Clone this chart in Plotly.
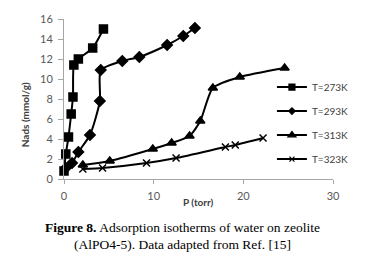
import plotly.graph_objects as go

p_273 = [0.0, 0.2, 0.5, 0.8, 1.0, 1.1, 1.6, 3.2, 4.4]
n_273 = [0.8, 2.5, 4.2, 6.5, 8.2, 11.4, 12.0, 13.1, 15.0]

p_293 = [0.2, 0.9, 1.6, 2.9, 4.0, 4.1, 6.5, 8.4, 11.5, 13.3, 14.6]
n_293 = [1.1, 1.6, 2.7, 4.4, 7.8, 10.9, 11.8, 12.2, 13.4, 14.3, 15.1]

p_313 = [2.1, 5.1, 9.9, 12.0, 14.0, 15.2, 16.6, 19.6, 24.6]
n_313 = [1.4, 1.8, 3.0, 3.6, 4.3, 5.8, 9.1, 10.2, 11.1]

p_323 = [2.1, 4.3, 9.2, 12.5, 18.0, 19.1, 22.2]
n_323 = [1.0, 1.1, 1.6, 2.1, 3.2, 3.4, 4.1]

series = [
    ("T=273K", p_273, n_273, "square", 8, 6),
    ("T=293K", p_293, n_293, "diamond", 8, 5),
    ("T=313K", p_313, n_313, "triangle-up", 8, 7),
    ("T=323K", p_323, n_323, "x-thin", 7, 5),
]

fig = go.Figure()
for i, (name, xs, ys, sym, sz, lsz) in enumerate(series):
    fig.add_trace(go.Scatter(
        x=xs, y=ys, name=name, mode="lines+markers",
        line=dict(color="black", width=2, shape="spline", smoothing=0.6),
        marker=dict(symbol=sym, size=sz, color="black",
                    line=dict(color="black", width=1.5)),
        cliponaxis=False, showlegend=False, hoverinfo="skip",
    ))
    # legend entry (smaller symbol, as in the reference legend)
    fig.add_trace(go.Scatter(
        x=[None], y=[None], name=name, mode="lines+markers",
        line=dict(color="black", width=2),
        marker=dict(symbol=sym, size=lsz, color="black",
                    line=dict(color="black", width=1.2)),
        legendgroup=f"g{i}",
    ))

sans = "Lato, Liberation Sans, sans-serif"
tick_font = dict(family=sans, size=11, color="#595959")
fig.update_layout(
    width=366, height=259,
    margin=dict(l=64, r=27, t=13, b=80),
    paper_bgcolor="white", plot_bgcolor="white",
    showlegend=True,
    legend=dict(x=0.773, y=0.665, xanchor="left", yanchor="top",
                font=dict(family=sans, size=10, color="#404040"),
                tracegroupgap=5, bgcolor="rgba(0,0,0,0)"),
    xaxis=dict(range=[0, 30], tickvals=[0, 10, 20, 30], showgrid=False, zeroline=False,
               showline=True, linecolor="#a6a6a6", linewidth=1,
               ticks="outside", ticklen=4, tickcolor="#a6a6a6", tickfont=tick_font,
               ticklabelstandoff=3),
    yaxis=dict(range=[0, 16], dtick=2, showgrid=False, zeroline=False,
               showline=True, linecolor="#a6a6a6", linewidth=1,
               ticks="outside", ticklen=5, tickcolor="#a6a6a6", tickfont=tick_font,
               ticklabelstandoff=3),
    annotations=[
        dict(text="<b>P (torr)</b>", xref="paper", yref="paper", x=(202-64)/275, y=-(203-179)/166,
             xanchor="center", yanchor="middle", showarrow=False,
             font=dict(family=sans, size=10, color="#404040")),
        dict(text="<b>Nads (mmol/g)</b>", xref="paper", yref="paper", x=-(64-25)/275, y=(179-112)/166,
             xanchor="center", yanchor="middle", textangle=-90, showarrow=False,
             font=dict(family=sans, size=10, color="#404040")),
        dict(text="<b>Figure 8.</b> Adsorption isotherms of water on zeolite", xref="paper", yref="paper",
             x=(185-64)/275, y=-(229-179)/166, xanchor="center", yanchor="middle", showarrow=False,
             font=dict(family="Liberation Serif, serif", size=13.5, color="black")),
        dict(text="(AlPO4-5). Data adapted from Ref. [15]", xref="paper", yref="paper",
             x=(185-64)/275, y=-(247-179)/166, xanchor="center", yanchor="middle", showarrow=False,
             font=dict(family="Liberation Serif, serif", size=13.5, color="black")),
    ],
)
fig.write_html("out.html", config={"displayModeBar": False},
               post_script="document.body.style.margin='0';")
